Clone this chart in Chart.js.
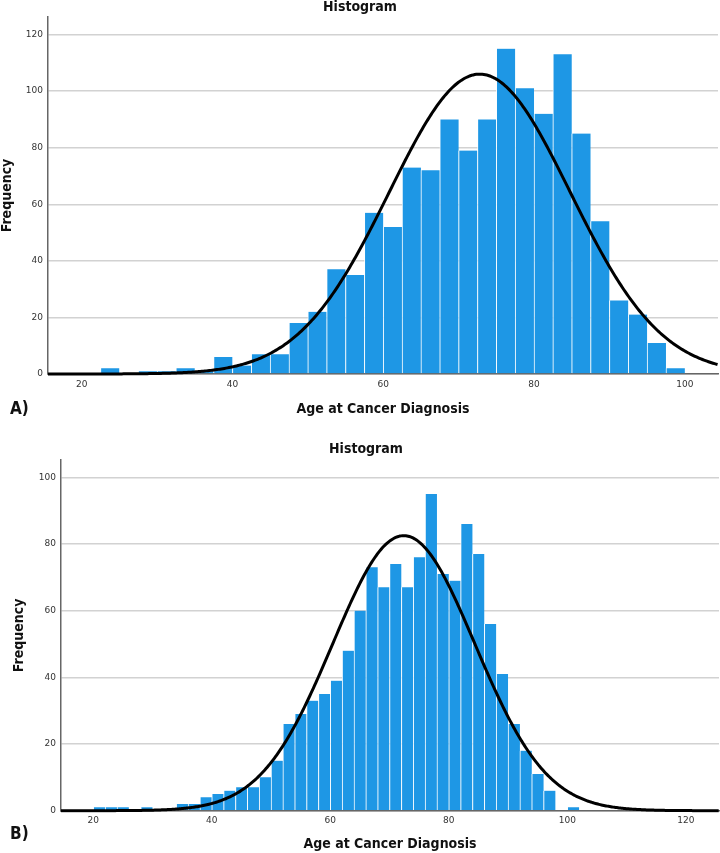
<!DOCTYPE html>
<html>
<head>
<meta charset="utf-8">
<script src="https://cdn.jsdelivr.net/npm/chart.js@4/dist/chart.umd.min.js"></script>
<style>
  html, body { margin: 0; padding: 0; background: #fff; }
  body { width: 720px; height: 853px; position: relative; overflow: hidden; }
  .box { position: absolute; left: 0; width: 720px; }
  #boxA { top: 0; height: 420px; }
  #boxB { top: 425px; height: 428px; }
</style>
</head>
<body>
<div class="box" id="boxA"><canvas id="chartA"></canvas></div>
<div class="box" id="boxB"><canvas id="chartB"></canvas></div>
<script>
// ---------- Data: panel A (bin width 2.5) ----------
const binStartsA = [22.5, 25, 27.5, 30, 32.5, 35, 37.5, 40, 42.5, 45, 47.5, 50, 52.5, 55, 57.5, 60,
  62.5, 65, 67.5, 70, 72.5, 75, 77.5, 80, 82.5, 85, 87.5, 90, 92.5, 95, 97.5];
const countsA = [2, 0, 1, 1, 2, 1, 6, 3, 7, 7, 18, 22, 37, 35, 57, 52,
  73, 72, 90, 79, 90, 115, 101, 92, 113, 85, 54, 26, 21, 11, 2];
const binWidthA = 2.5;
const xTicksA = [20, 40, 60, 80, 100];
const yTicksA = [0, 20, 40, 60, 80, 100, 120];
// fitted normal curve parameters (panel A)
const normalMeanA = 72.8, normalSdA = 12.0, normalPeakA = 106;

// ---------- Data: panel B (bin width 2) ----------
const binStartsB = [20, 22, 24, 26, 28, 30, 32, 34, 36, 38, 40, 42, 44, 46, 48, 50, 52, 54, 56, 58,
  60, 62, 64, 66, 68, 70, 72, 74, 76, 78, 80, 82, 84, 86, 88, 90, 92, 94, 96, 98, 100];
const countsB = [1, 1, 1, 0, 1, 0, 0, 2, 2, 4, 5, 6, 7, 7, 10, 15, 26, 29, 33, 35,
  39, 48, 60, 73, 67, 74, 67, 76, 95, 71, 69, 86, 77, 56, 41, 26, 18, 11, 6, 0, 1];
const binWidthB = 2;
const xTicksB = [20, 40, 60, 80, 100, 120];
const yTicksB = [0, 20, 40, 60, 80, 100];
// fitted normal curve parameters (panel B)
const normalMeanB = 72.4, normalSdB = 12.0, normalPeakB = 82.5;

const titleText = 'Histogram';
const xTitle = 'Age at Cancer Diagnosis';
const yTitle = 'Frequency';

const BAR = 'rgb(30,151,229)';
const TITLE_FONT = "'DejaVu Sans Condensed', 'DejaVu Sans', sans-serif";
const TICK_FONT = "'DejaVu Sans', sans-serif";

function normalCurve(mean, sd, peak, xmin, xmax) {
  const pts = [];
  for (let x = xmin; x <= xmax + 1e-9; x += 0.2) {
    pts.push({ x: x, y: peak * Math.exp(-((x - mean) * (x - mean)) / (2 * sd * sd)) });
  }
  return pts;
}

function makeChart(id, cfg) {
  const canvas = document.getElementById(id);
  const labelPlugin = {
    id: 'labels_' + id,
    afterDraw(chart) {
      const ctx = chart.ctx;
      ctx.save();
      ctx.fillStyle = '#111';
      ctx.font = 'bold 14px ' + TITLE_FONT;
      ctx.textAlign = 'center';
      ctx.textBaseline = 'middle';
      ctx.fillText(titleText, cfg.titleX, cfg.titleY);
      ctx.font = 'bold 17px ' + TITLE_FONT;
      ctx.textAlign = 'left';
      ctx.fillText(cfg.panel, 10, cfg.panelY);
      ctx.restore();
    }
  };
  const bars = cfg.bins.map((b, i) => ({ x: b + cfg.bw / 2, y: cfg.counts[i] }));
  return new Chart(canvas, {
    type: 'bar',
    data: {
      datasets: [
        {
          type: 'line',
          data: normalCurve(cfg.mean, cfg.sd, cfg.peak, cfg.xmin, cfg.xmax),
          borderColor: '#000',
          borderWidth: 3,
          pointRadius: 0,
          fill: false,
          tension: 0,
          order: 0,
          clip: 2
        },
        {
          type: 'bar',
          data: bars,
          backgroundColor: BAR,
          borderColor: 'rgba(255,255,255,0.85)',
          borderWidth: { left: 1, right: 0, top: 0, bottom: 0 },
          borderSkipped: false,
          barPercentage: 1.0,
          categoryPercentage: 1.0,
          order: 1
        }
      ]
    },
    options: {
      responsive: true,
      maintainAspectRatio: false,
      animation: false,
      devicePixelRatio: 1,
      layout: { padding: { left: 0, right: cfg.padRight, top: cfg.padTop, bottom: 0 } },
      plugins: { legend: { display: false }, tooltip: { enabled: false }, title: { display: false } },
      scales: {
        x: {
          type: 'linear',
          min: cfg.xmin,
          max: cfg.xmax,
          offset: false,
          afterBuildTicks: (s) => { s.ticks = cfg.xTicks.map(v => ({ value: v })); },
          afterFit: (s) => { s.height = cfg.xHeight; },
          grid: { display: false, drawTicks: false },
          border: { display: true, color: '#666', width: 1.5 },
          ticks: {
            padding: 5,
            autoSkip: false,
            maxRotation: 0,
            color: '#333',
            font: { family: TICK_FONT, size: 9 },
            callback: (v) => String(v)
          },
          title: {
            display: true,
            text: xTitle,
            color: '#111',
            font: { family: TITLE_FONT, size: 14, weight: 'bold' },
            padding: { top: 0, bottom: cfg.xTitlePad }
          }
        },
        y: {
          type: 'linear',
          min: 0,
          max: cfg.ymax,
          afterBuildTicks: (s) => { s.ticks = cfg.yTicks.map(v => ({ value: v })); },
          afterFit: (s) => { s.width = cfg.yWidth; },
          grid: { display: true, drawTicks: false, color: '#d2d2d2', lineWidth: 1.5 },
          border: { display: true, color: '#666', width: 1.5 },
          ticks: {
            padding: 5,
            color: '#333',
            font: { family: TICK_FONT, size: 9 },
            callback: (v) => String(v)
          },
          title: {
            display: true,
            text: yTitle,
            color: '#111',
            font: { family: TITLE_FONT, size: 14, weight: 'bold' },
            padding: { top: cfg.yTitlePad, bottom: 0 }
          }
        }
      }
    },
    plugins: [labelPlugin]
  });
}

makeChart('chartA', {
  bins: binStartsA, counts: countsA, bw: binWidthA,
  mean: normalMeanA, sd: normalSdA, peak: normalPeakA,
  xmin: 15.54, xmax: 104.4, ymax: 126.2,
  xTicks: xTicksA, yTicks: yTicksA,
  padTop: 17, padRight: 2, xHeight: 46, yWidth: 48,
  xTitlePad: 2.6, yTitlePad: -1,
  titleX: 360, titleY: 7, panel: 'A)', panelY: 410
});

makeChart('chartB', {
  bins: binStartsB, counts: countsB, bw: binWidthB,
  mean: normalMeanB, sd: normalSdB, peak: normalPeakB,
  xmin: 14.55, xmax: 125.6, ymax: 105.2,
  xTicks: xTicksB, yTicks: yTicksB,
  padTop: 35, padRight: 1, xHeight: 42.3, yWidth: 61,
  xTitlePad: 0, yTitlePad: 10.6,
  titleX: 366, titleY: 24, panel: 'B)', panelY: 410
});
</script>
</body>
</html>
